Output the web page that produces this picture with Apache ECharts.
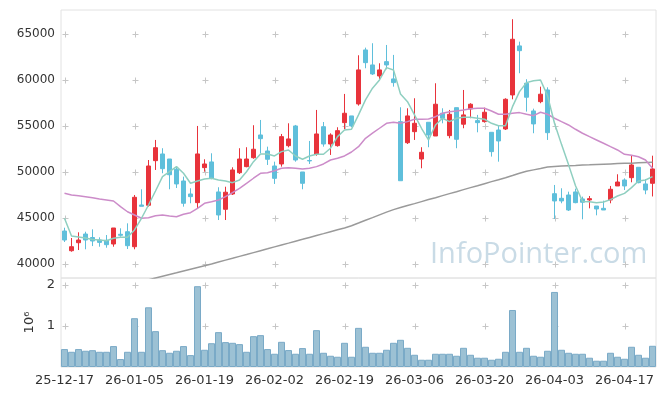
<!DOCTYPE html>
<html><head><meta charset="utf-8">
<script src="https://cdn.jsdelivr.net/npm/echarts@6/dist/echarts.min.js"></script>
<style>html,body{margin:0;padding:0;background:#fff}#c{width:665px;height:396px}</style>
</head><body><div id="c"></div>
<script>
const categories = [
'25-12-17','25-12-18','25-12-19','25-12-22','25-12-23','25-12-24','25-12-26','25-12-29','25-12-30','26-01-02',
'26-01-05','26-01-06','26-01-07','26-01-08','26-01-09','26-01-12','26-01-13','26-01-14','26-01-15','26-01-16',
'26-01-19','26-01-20','26-01-21','26-01-22','26-01-23','26-01-26','26-01-27','26-01-28','26-01-29','26-01-30',
'26-02-02','26-02-03','26-02-04','26-02-05','26-02-06','26-02-09','26-02-10','26-02-11','26-02-12','26-02-13',
'26-02-19','26-02-20','26-02-23','26-02-24','26-02-25','26-02-26','26-02-27','26-03-03','26-03-04','26-03-05',
'26-03-06','26-03-09','26-03-10','26-03-11','26-03-12','26-03-13','26-03-16','26-03-17','26-03-18','26-03-19',
'26-03-20','26-03-23','26-03-24','26-03-25','26-03-26','26-03-27','26-03-30','26-03-31','26-04-01','26-04-02',
'26-04-03','26-04-06','26-04-07','26-04-08','26-04-09','26-04-10','26-04-13','26-04-14','26-04-15','26-04-16',
'26-04-17','26-04-20','26-04-21','26-04-22','26-04-23'];

const openP = [43586,41445,42314,43260,42880,42608,42570,42174,43230,43510,
41880,46413,46380,51230,51956,51410,50290,49020,47610,46670,
50470,51090,47830,45945,47610,49920,50580,51550,54020,52280,
50650,50870,52860,55000,50000,51250,51920,54920,53040,52860,
55360,56090,57390,63260,61630,60430,61990,60110,55470,53180,
54380,51410,55400,53910,56380,53950,56990,55190,56850,55580,
55470,54310,54560,54670,58370,63700,59640,56630,57640,58910,
47640,47140,47500,47830,47070,46960,46300,46050,46960,48480,
49130,49380,50510,48700,48770];
const closeP = [42608,41880,42608,42608,42500,42350,42100,43913,43120,41990,
47250,46270,50650,52640,50360,49700,48700,46600,47320,51960,
50870,49320,45330,47800,50220,51410,51410,52470,53620,51380,
49310,53840,53590,51300,48770,51200,54130,53040,54020,54490,
56380,55000,61090,61880,60650,61090,61630,59710,49050,56090,
55290,52140,54020,57360,55840,56270,53550,56200,57360,55360,
56490,52210,53370,57900,64420,63180,58120,55220,58450,54270,
46850,46850,45870,46670,46710,47100,45980,45870,48120,48910,
48480,50760,48840,48040,50330];
const lowP = [42390,41336,41520,41600,41950,41880,41770,41880,42970,41630,
41600,46270,46230,50220,49860,48120,48260,46230,46600,46050,
50030,49210,44780,44780,47500,49780,50510,51440,52030,50760,
48700,50580,52680,51120,48120,50870,51770,52750,51850,52750,
54640,54860,57210,61270,60540,60000,61160,59270,49050,53040,
53480,50400,52690,53910,55290,53660,52580,54750,55840,54310,
55360,51670,51120,54560,57900,60730,56560,54210,57470,53480,
44890,46600,45760,46600,44860,46050,45290,45870,46600,48480,
48040,48880,48770,47580,47340];
const highP = [43945,42826,43445,43510,43770,42900,43150,43913,43880,44420,
47500,48120,51300,53480,52580,51410,50580,49490,48230,55000,
51380,52030,48340,48400,50510,52580,52690,55080,55650,52750,
51120,54130,55290,55110,50000,53370,56740,55430,54200,54860,
58480,56090,62680,63510,63990,61810,63800,62720,57030,56920,
58010,52690,55400,59640,56920,56740,56990,58910,57470,56200,
56990,54310,55000,58010,66600,64160,60080,56880,59270,59200,
48590,48230,47860,48190,47320,47390,46300,46880,48480,49750,
49310,51770,50510,49240,51770];

const ma5 = [44970,43040,42940,42830,42660,42610,42530,42790,42900,42900,
43700,44970,46410,47930,49490,50030,50580,49860,48770,49020,
49240,49320,49130,49020,48840,49130,50030,51120,51960,51960,
51740,52210,52390,51740,51380,51740,51920,51920,52580,53840,
54570,54640,56200,57830,59100,60000,61340,61090,58480,57640,
56200,54750,53480,55110,55840,55470,55840,55950,55950,55840,
55730,55290,55030,55030,57100,58730,59710,59920,60000,58300,
55300,53000,50800,48500,46800,46770,46660,46740,47000,47390,
47680,48300,49020,49130,49490];
const ma20 = [47680,47500,47410,47320,47200,47070,46960,46850,46230,45680,
45330,44970,45030,45250,45330,45220,45140,45400,45580,46050,
46600,46770,46960,47320,47750,48230,48770,49320,49860,49920,
50140,50400,50470,50400,50330,50400,50580,50870,51300,51490,
51740,52170,52750,53660,54210,54750,55290,55400,55290,55470,
55730,55730,55760,56010,56380,56550,56630,56740,56880,56920,
56920,56630,56270,56270,56380,56450,56270,56120,56490,56270,
55840,55470,55110,54640,54210,53840,53480,53120,52750,52390,
51920,51820,51660,51300,50400];
const ma120 = [36000,36190,36380,36570,36760,36950,37140,37330,37520,37710,
37900,38090,38280,38470,38660,38850,39040,39240,39430,39620,
39810,40000,40210,40420,40620,40830,41030,41240,41450,41650,
41860,42070,42270,42480,42680,42890,43100,43300,43510,43720,
43920,44160,44450,44750,45040,45340,45640,45910,46130,46350,
46560,46780,47000,47210,47430,47650,47860,48080,48300,48510,
48730,48950,49160,49380,49620,49870,50080,50230,50380,50540,
50600,50640,50680,50710,50750,50780,50820,50850,50880,50910,
50940,50960,50990,51020,51050];

const volumes = [437000,371000,437000,396000,410000,371000,371000,510000,194000,371000,
1190000,371000,1456000,874000,410000,347000,396000,510000,290000,1970000,
420000,580000,850000,607000,590000,558000,371000,752000,777000,437000,
323000,614000,413000,323000,461000,323000,898000,347000,274000,250000,
590000,250000,954000,493000,347000,347000,420000,590000,663000,468000,
298000,177000,177000,323000,323000,323000,274000,468000,298000,226000,
226000,177000,201000,371000,1390000,371000,468000,274000,250000,396000,
1830000,420000,347000,323000,323000,226000,153000,153000,347000,250000,
201000,493000,298000,226000,517000];

const priceTicks = [40000,45000,50000,55000,60000,65000];
const volTicks = [1000000,2000000];
const labelEvery = 10;

const candleData = categories.map((_, i) => [openP[i], closeP[i], lowP[i], highP[i]]);
const markIdx = categories.map((_, i) => i).filter(i => i % labelEvery === 0);
const priceMarks = [];
markIdx.forEach(i => priceTicks.forEach(p => priceMarks.push([i, p])));
const volMarks = [];
markIdx.forEach(i => volTicks.forEach(v => volMarks.push([i, v])));

const FONT = 'DejaVu Sans';
const markColor = '#c6c6c6';
const chart = echarts.init(document.getElementById('c'), null, {renderer: 'canvas'});

// small "+" marks at tick intersections, drawn through the axes' own scales
function plusItem(params, api) {
  const pt = api.coord([api.value(0), api.value(1)]);
  const x = Math.round(pt[0]) + 0.5, y = Math.round(pt[1]) + 0.5;
  const s = 3;
  return {
    type: 'group',
    children: [
      {type: 'line', shape: {x1: x - s, y1: y, x2: x + s, y2: y}, style: {stroke: markColor, lineWidth: 1}},
      {type: 'line', shape: {x1: x, y1: y - s, x2: x, y2: y + s}, style: {stroke: markColor, lineWidth: 1}}
    ]
  };
}

chart.setOption({
  animation: false,
  backgroundColor: '#ffffff',
  grid: [
    {left: 61, top: 10, width: 595, height: 268, show: true, borderColor: '#e2e2e2', borderWidth: 1, backgroundColor: 'transparent'},
    {left: 61, top: 278, width: 595, height: 89, show: true, borderColor: '#e2e2e2', borderWidth: 1, backgroundColor: 'transparent'}
  ],
  graphic: [{
    type: 'text', left: 430, top: 240, z: 0, silent: true,
    style: {text: 'InfoPointer.com', fill: '#c9dbe6', font: '29px "Open Sans"'}
  }],
  xAxis: [
    {type: 'category', gridIndex: 0, data: categories, boundaryGap: true,
     axisLine: {show: false}, axisTick: {show: false}, axisLabel: {show: false}, splitLine: {show: false}},
    {type: 'category', gridIndex: 1, data: categories, boundaryGap: true,
     axisLine: {show: false}, axisTick: {show: false},
     axisLabel: {interval: labelEvery - 1, color: '#333', fontFamily: FONT, fontSize: 13, margin: 7},
     splitLine: {show: false}}
  ],
  yAxis: [
    {type: 'value', gridIndex: 0, min: 38480, max: 67600, splitNumber: 5,
     axisLine: {show: false}, axisTick: {show: false}, splitLine: {show: false},
     axisLabel: {color: '#333', fontFamily: FONT, fontSize: 12, margin: 6,
       formatter: v => priceTicks.indexOf(v) >= 0 ? String(v) : ''}},
    {type: 'value', gridIndex: 1, min: 0, max: 2170000, interval: 1000000,
     name: '10⁶', nameLocation: 'middle', nameRotate: 90, nameGap: 22,
     nameTextStyle: {color: '#333', fontFamily: FONT, fontSize: 13},
     axisLine: {show: false}, axisTick: {show: false}, splitLine: {show: false},
     axisLabel: {color: '#333', fontFamily: FONT, fontSize: 13, margin: 6,
       formatter: v => volTicks.indexOf(v) >= 0 ? String(v / 1000000) : ''}}
  ],
  series: [
    {type: 'custom', xAxisIndex: 0, yAxisIndex: 0, data: priceMarks, renderItem: plusItem,
     silent: true, z: 1, encode: {x: 0, y: 1}},
    {type: 'custom', xAxisIndex: 1, yAxisIndex: 1, data: volMarks, renderItem: plusItem,
     silent: true, z: 1, encode: {x: 0, y: 1}},
    {type: 'candlestick', xAxisIndex: 0, yAxisIndex: 0, data: candleData, barWidth: 4, z: 3,
     itemStyle: {color: '#e8333b', color0: '#5fbfdb', borderColor: '#e8333b', borderColor0: '#5fbfdb', borderWidth: 1}},
    {type: 'line', xAxisIndex: 0, yAxisIndex: 0, data: ma120, showSymbol: false, clip: true, z: 4,
     lineStyle: {color: '#9a9a9a', width: 1.5}},
    {type: 'line', xAxisIndex: 0, yAxisIndex: 0, data: ma20, showSymbol: false, clip: true, z: 4,
     lineStyle: {color: '#cc8cc9', width: 1.5}},
    {type: 'line', xAxisIndex: 0, yAxisIndex: 0, data: ma5, showSymbol: false, clip: true, z: 4,
     lineStyle: {color: '#8fcfc0', width: 1.5}},
    {type: 'bar', xAxisIndex: 1, yAxisIndex: 1, data: volumes, barCategoryGap: '0%', z: 3,
     itemStyle: {color: '#9cc1d4', borderColor: '#7aaac7', borderWidth: 1}}
  ]
});
</script></body></html>
